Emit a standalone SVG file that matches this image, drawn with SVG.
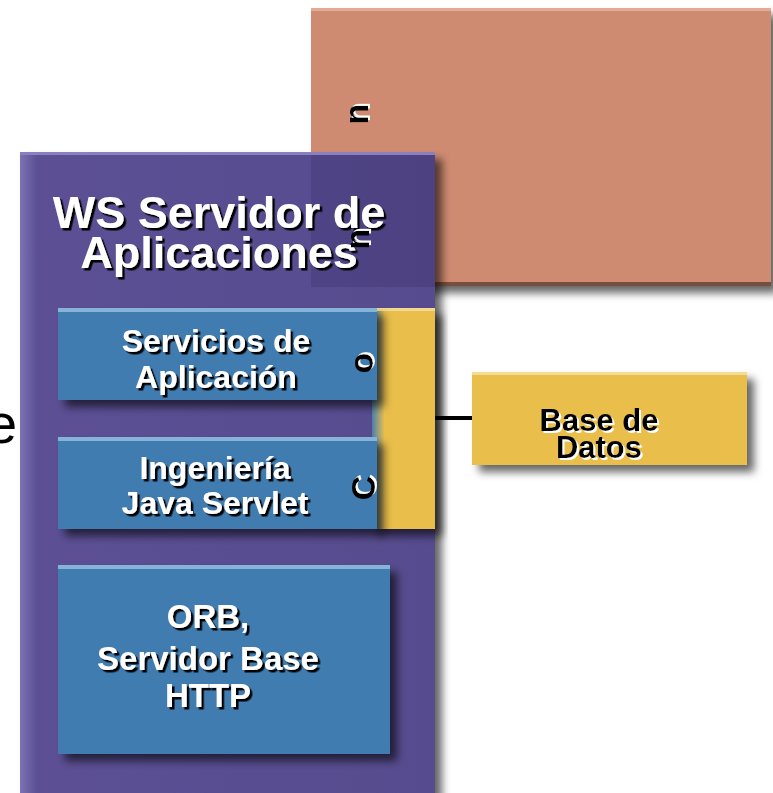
<svg xmlns="http://www.w3.org/2000/svg" width="773" height="793" viewBox="0 0 773 793">
<defs>
<style>
.wt{font-family:"Liberation Sans",Arial,sans-serif;font-weight:bold;fill:#ffffff;text-anchor:middle;filter:url(#tsB)}
.bt{font-family:"Liberation Sans",Arial,sans-serif;font-weight:bold;fill:#000000;text-anchor:middle;filter:url(#tsW)}
.rl{font-family:"Liberation Sans",Arial,sans-serif;font-weight:bold;font-size:34px;fill:#000000;text-anchor:middle;filter:url(#tsW)}
</style>
<filter id="tsB" x="-10%" y="-20%" width="130%" height="150%"><feDropShadow dx="2.5" dy="2.5" stdDeviation="0.4" flood-color="#000" flood-opacity="1"/></filter>
<filter id="tsW" x="-10%" y="-20%" width="130%" height="150%"><feDropShadow dx="2" dy="2" stdDeviation="0.4" flood-color="#fff" flood-opacity="1"/></filter>
<filter id="box" x="-10%" y="-10%" width="130%" height="130%"><feDropShadow dx="7" dy="7" stdDeviation="4" flood-color="#000" flood-opacity="0.6"/></filter>
<linearGradient id="purpleG" x1="0" y1="0" x2="1" y2="0">
<stop offset="0" stop-color="#7d73b3"/><stop offset="0.04" stop-color="#5b5094"/><stop offset="1" stop-color="#574c8e"/>
</linearGradient>
<linearGradient id="yellowG" x1="0" y1="0" x2="1" y2="0">
<stop offset="0" stop-color="#4a80ae"/><stop offset="0.2" stop-color="#e9be4c"/><stop offset="1" stop-color="#e9be4c"/>
</linearGradient>
</defs>

<g id="componente-salmon">
<rect x="311" y="8" width="460" height="278" fill="#cf8b72" filter="url(#box)"/>
<rect x="311" y="8" width="460" height="3" fill="#e2ab97"/>
<rect x="311" y="282" width="460" height="4" fill="#7a4e3e"/>
<text class="rl" transform="translate(368 114) rotate(-90)">n</text>
</g>

<g id="ws-servidor">
<rect x="20" y="152" width="415" height="660" fill="url(#purpleG)" filter="url(#box)"/>
<rect x="20" y="152" width="415" height="3" fill="#8a80bd"/>
<rect x="311" y="155" width="124" height="132" fill="#1a1040" opacity="0.15"/>
<text class="wt" font-size="45" x="219" y="228">WS Servidor de</text>
<text class="wt" font-size="45" x="219" y="268">Aplicaciones</text>
<text class="rl" transform="translate(369 239) rotate(-90)">n</text>
</g>

<g id="conector-bar">
<rect x="372" y="308" width="63" height="221" fill="url(#yellowG)" filter="url(#box)"/>
<rect x="372" y="308" width="63" height="3" fill="#f3d98f"/>
</g>

<g id="servicios-aplicacion">
<rect x="58" y="308" width="319" height="92" fill="#417cb0" filter="url(#box)"/>
<rect x="58" y="308" width="319" height="4" fill="#86b3d8"/>
<text class="wt" font-size="32" x="216" y="352">Servicios de</text>
<text class="wt" font-size="32" x="216" y="388">Aplicación</text>
</g>

<g id="ingenieria-servlet">
<rect x="58" y="437" width="319" height="92" fill="#417cb0" filter="url(#box)"/>
<rect x="58" y="437" width="319" height="4" fill="#86b3d8"/>
<text class="wt" font-size="32" x="215" y="479">Ingeniería</text>
<text class="wt" font-size="32" x="215" y="514">Java Servlet</text>
</g>

<g id="conector-letras">
<text class="rl" transform="translate(373 363) rotate(-90)">o</text>
<text class="rl" transform="translate(375 488) rotate(-90)">C</text>
</g>

<g id="orb-http">
<rect x="58" y="565" width="332" height="189" fill="#417cb0" filter="url(#box)"/>
<rect x="58" y="565" width="332" height="4" fill="#86b3d8"/>
<text class="wt" font-size="33" x="208" y="628">ORB,</text>
<text class="wt" font-size="33" x="208" y="670">Servidor Base</text>
<text class="wt" font-size="33" x="208" y="707">HTTP</text>
</g>

<g id="connectors">
<line x1="435" y1="418" x2="473" y2="418" stroke="#000" stroke-width="4"/>
</g>

<g id="base-datos">
<rect x="472" y="372" width="275" height="93" fill="#e9be4c" filter="url(#box)"/>
<rect x="472" y="372" width="275" height="3" fill="#f5dc95"/>
<text class="bt" font-size="31" x="599" y="431">Base de</text>
<text class="bt" font-size="31" x="599" y="458">Datos</text>
</g>

<text x="-14" y="443" font-family="Liberation Sans,Arial,sans-serif" font-size="56" fill="#000">e</text>
</svg>
